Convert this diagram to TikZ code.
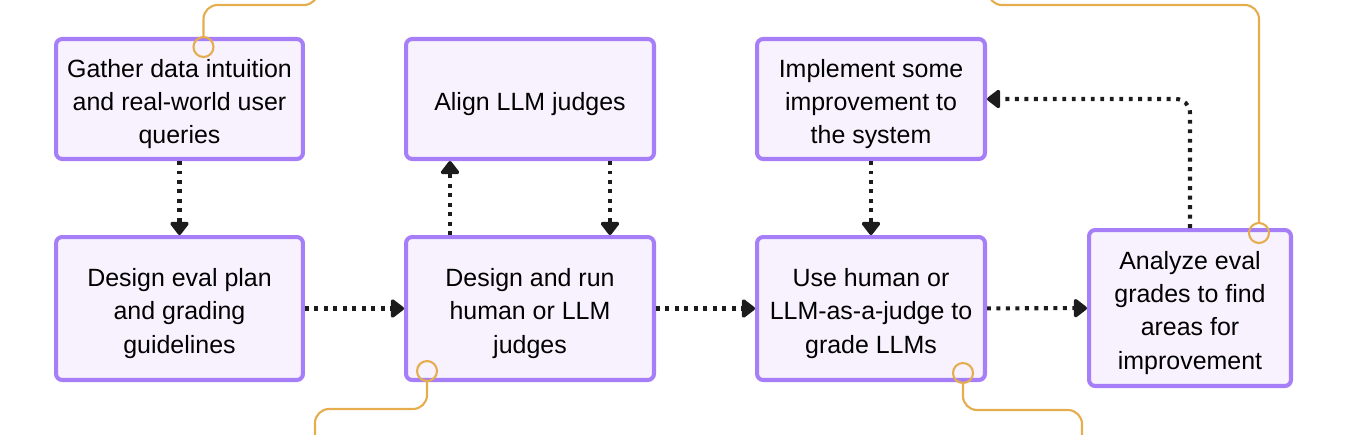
\documentclass[tikz,border=0pt]{standalone}
\usepackage{fontspec}
\setmainfont{Liberation Sans}
\usetikzlibrary{arrows.meta}

\definecolor{boxfill}{HTML}{F7F2FE}
\definecolor{boxline}{HTML}{A67FF8}
\definecolor{linkline}{HTML}{E6AD4F}
\definecolor{flowline}{HTML}{1C1C1C}

\begin{document}
\begin{tikzpicture}[x=0.02cm, y=-0.02cm,
    stepbox/.style={draw=boxline, fill=boxfill, line width=2.3pt, rounded corners=3.5pt,
      align=center, inner sep=0pt, font=\fontsize{14.2}{18.8}\selectfont},
    flow/.style={draw=flowline, line width=2.3pt, dash pattern=on 2.2pt off 3.2pt,
      -{Triangle[width=12pt,length=8.2pt,round]}},
    link/.style={draw=linkline, line width=1.2pt, rounded corners=8pt},
    port/.style={circle, draw=linkline, line width=1.2pt, inner sep=0pt, minimum size=0.4cm}]

    % Frame
    \useasboundingbox (0,0) rectangle (1350,434);
    \clip (0,0) rectangle (1350,434);

    % Steps
    \node[stepbox, minimum width=4.94cm, minimum height=2.4cm] (gather) at (179.5,99)
      {\rule{0pt}{16pt}Gather data intuition\\and real-world user\\queries};
    \node[stepbox, minimum width=4.94cm, minimum height=2.86cm] (plan) at (179.5,308.5)
      {\rule{0pt}{16pt}Design eval plan\\and grading\\guidelines};
    \node[stepbox, minimum width=4.96cm, minimum height=2.4cm] (align) at (530,99)
      {\rule{0pt}{16pt}Align LLM judges};
    \node[stepbox, minimum width=4.96cm, minimum height=2.86cm] (judges) at (530,308.5)
      {\rule{0pt}{16pt}Design and run\\human or LLM\\judges};
    \node[stepbox, minimum width=4.56cm, minimum height=2.4cm] (improve) at (871,99)
      {\rule{0pt}{16pt}Implement some\\improvement to\\the system};
    \node[stepbox, minimum width=4.56cm, minimum height=2.86cm] (grade) at (871,308.5)
      {\rule{0pt}{16pt}Use human or\\LLM-as-a-judge to\\grade LLMs};
    \node[stepbox, minimum width=4.04cm, minimum height=3.12cm] (analyze) at (1190,308)
      {\rule{0pt}{16pt}Analyze eval\\grades to find\\areas for\\improvement};

    % Flow between steps
    \draw[flow] (gather) -- (plan);
    \draw[flow] (plan) -- (judges);
    \draw[flow] ([xshift=-1.6cm]judges.north) -- ([xshift=-1.6cm]align.south);
    \draw[flow] ([xshift=1.6cm]align.south) -- ([xshift=1.6cm]judges.north);
    \draw[flow] (judges) -- (grade);
    \draw[flow] (improve) -- (grade);
    \draw[flow] (grade) -- (analyze);
    \draw[flow, rounded corners=8pt] (analyze.north) |- (improve.east);

    % Links leaving the picture
    \node[port] (p1) at ([xshift=0.48cm, yshift=-0.2cm]gather.north) {};
    \node[port] (p2) at ([xshift=-2.06cm, yshift=0.22cm]judges.south) {};
    \node[port] (p3) at ([xshift=1.84cm, yshift=0.18cm]grade.south) {};
    \node[port] (p4) at ([xshift=1.38cm, yshift=-0.1cm]analyze.north) {};
    \coordinate (top1) at (318,5);
    \coordinate (out1) at (318,-30);
    \coordinate (bot2) at (315,409);
    \coordinate (out2) at (315,470);
    \coordinate (bot3) at (1082,410);
    \coordinate (out3) at (1082,470);
    \coordinate (top4) at (988,5);
    \coordinate (out4) at (988,-30);
    \draw[link] (p1.north) |- (top1) -- (out1);
    \draw[link] (p2.south) |- (bot2) -- (out2);
    \draw[link] (p3.south) |- (bot3) -- (out3);
    \draw[link] (p4.north) |- (top4) -- (out4);

\end{tikzpicture}
\end{document}
